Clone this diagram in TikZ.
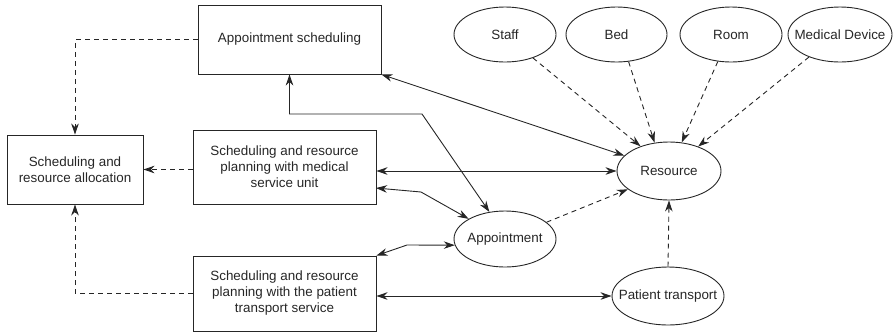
\documentclass[tikz,border=0pt]{standalone}
\usepackage{fontspec}
\setmainfont{Liberation Sans}
\usetikzlibrary{arrows.meta,shapes.geometric}
% ellipse labels do not enlarge their ellipse
\newcommand{\elabel}[1]{\makebox[0pt]{#1}}
\begin{document}
\begin{tikzpicture}[x=1pt,y=-1pt,
  every node/.style={font=\fontsize{13.4}{16}\selectfont, text=black!85, align=center, inner sep=0pt},
  boxnode/.style={draw=black!85, line width=0.9pt, rectangle},
  ellnode/.style={draw=black!85, line width=0.9pt, ellipse},
  link/.style={draw=black!85, line width=0.9pt, {Stealth[length=11pt,width=7.5pt,inset=3.5pt]}-{Stealth[length=11pt,width=7.5pt,inset=3.5pt]}},
  dlink/.style={draw=black!85, line width=0.9pt, dash pattern=on 5pt off 4pt, -{Stealth[length=11pt,width=7.5pt,inset=3.5pt]}}
]
\useasboundingbox (0,0) rectangle (893,333);

% rectangular process boxes
\node[boxnode, minimum width=183pt, minimum height=69pt] (sched) at (289.5,39.5) {Appointment scheduling};
\node[boxnode, minimum width=136pt, minimum height=69pt] (alloc) at (75,169.5) {Scheduling and\\resource allocation};
\node[boxnode, minimum width=183pt, minimum height=74pt] (med) at (284.5,167) {Scheduling and resource\\planning with medical\\service unit};
\node[boxnode, minimum width=183pt, minimum height=75pt] (ptbox) at (284.5,293.5) {Scheduling and resource\\planning with the patient\\transport service};

% elliptical entities
\node[ellnode, minimum width=102pt, minimum height=55pt] (staff) at (505,34.5) {\elabel{Staff}};
\node[ellnode, minimum width=101pt, minimum height=55pt] (bed) at (616.5,34.5) {\elabel{Bed}};
\node[ellnode, minimum width=102pt, minimum height=55pt] (room) at (731,34.5) {\elabel{Room}};
\node[ellnode, minimum width=104pt, minimum height=55pt] (meddev) at (840,34.5) {\elabel{Medical Device}};
\node[ellnode, minimum width=104pt, minimum height=58pt] (res) at (669,171) {\elabel{Resource}};
\node[ellnode, minimum width=102pt, minimum height=56pt] (app) at (505,239) {\elabel{Appointment}};
\node[ellnode, minimum width=112pt, minimum height=58pt] (pt) at (668,296) {\elabel{Patient transport}};

% bend points
\coordinate (c1) at (289.5,114);
\coordinate (c2) at (422,114);
\coordinate (c3) at (421,192);
\coordinate (c4) at (407,245);
\coordinate (c5) at (376,188);

% dashed flows into the allocation box
\draw[dlink] (sched.west) -| (alloc.north);
\draw[dlink] (alloc.east -| med.west) -- (alloc.east);
\draw[dlink] (ptbox.west) -| (alloc.south);

% dashed flows into the resource
\draw[dlink] (staff.-40) -- (res.139);
\draw[dlink] (bed.-66) -- (res.117);
\draw[dlink] (room.-116) -- (res.66);
\draw[dlink] (meddev.-144) -- (res.40);
\draw[dlink] (app.22) -- (res.204);
\draw[dlink] (pt.north) -- (res.south);

% solid two-way links
\draw[link] (sched.south east) -- (res.161);
\draw[link] (sched.south) -- (c1) -- (c2) -- (app.120);
\draw[link] (res.west -| med.east) -- (res.west);
\draw[link] (c5) -- (c3) -- (app.151);
\draw[link] (ptbox.north east) -- (c4) -- (app.187);
\draw[link] (pt.west -| ptbox.east) -- (pt.west);
\end{tikzpicture}
\end{document}
